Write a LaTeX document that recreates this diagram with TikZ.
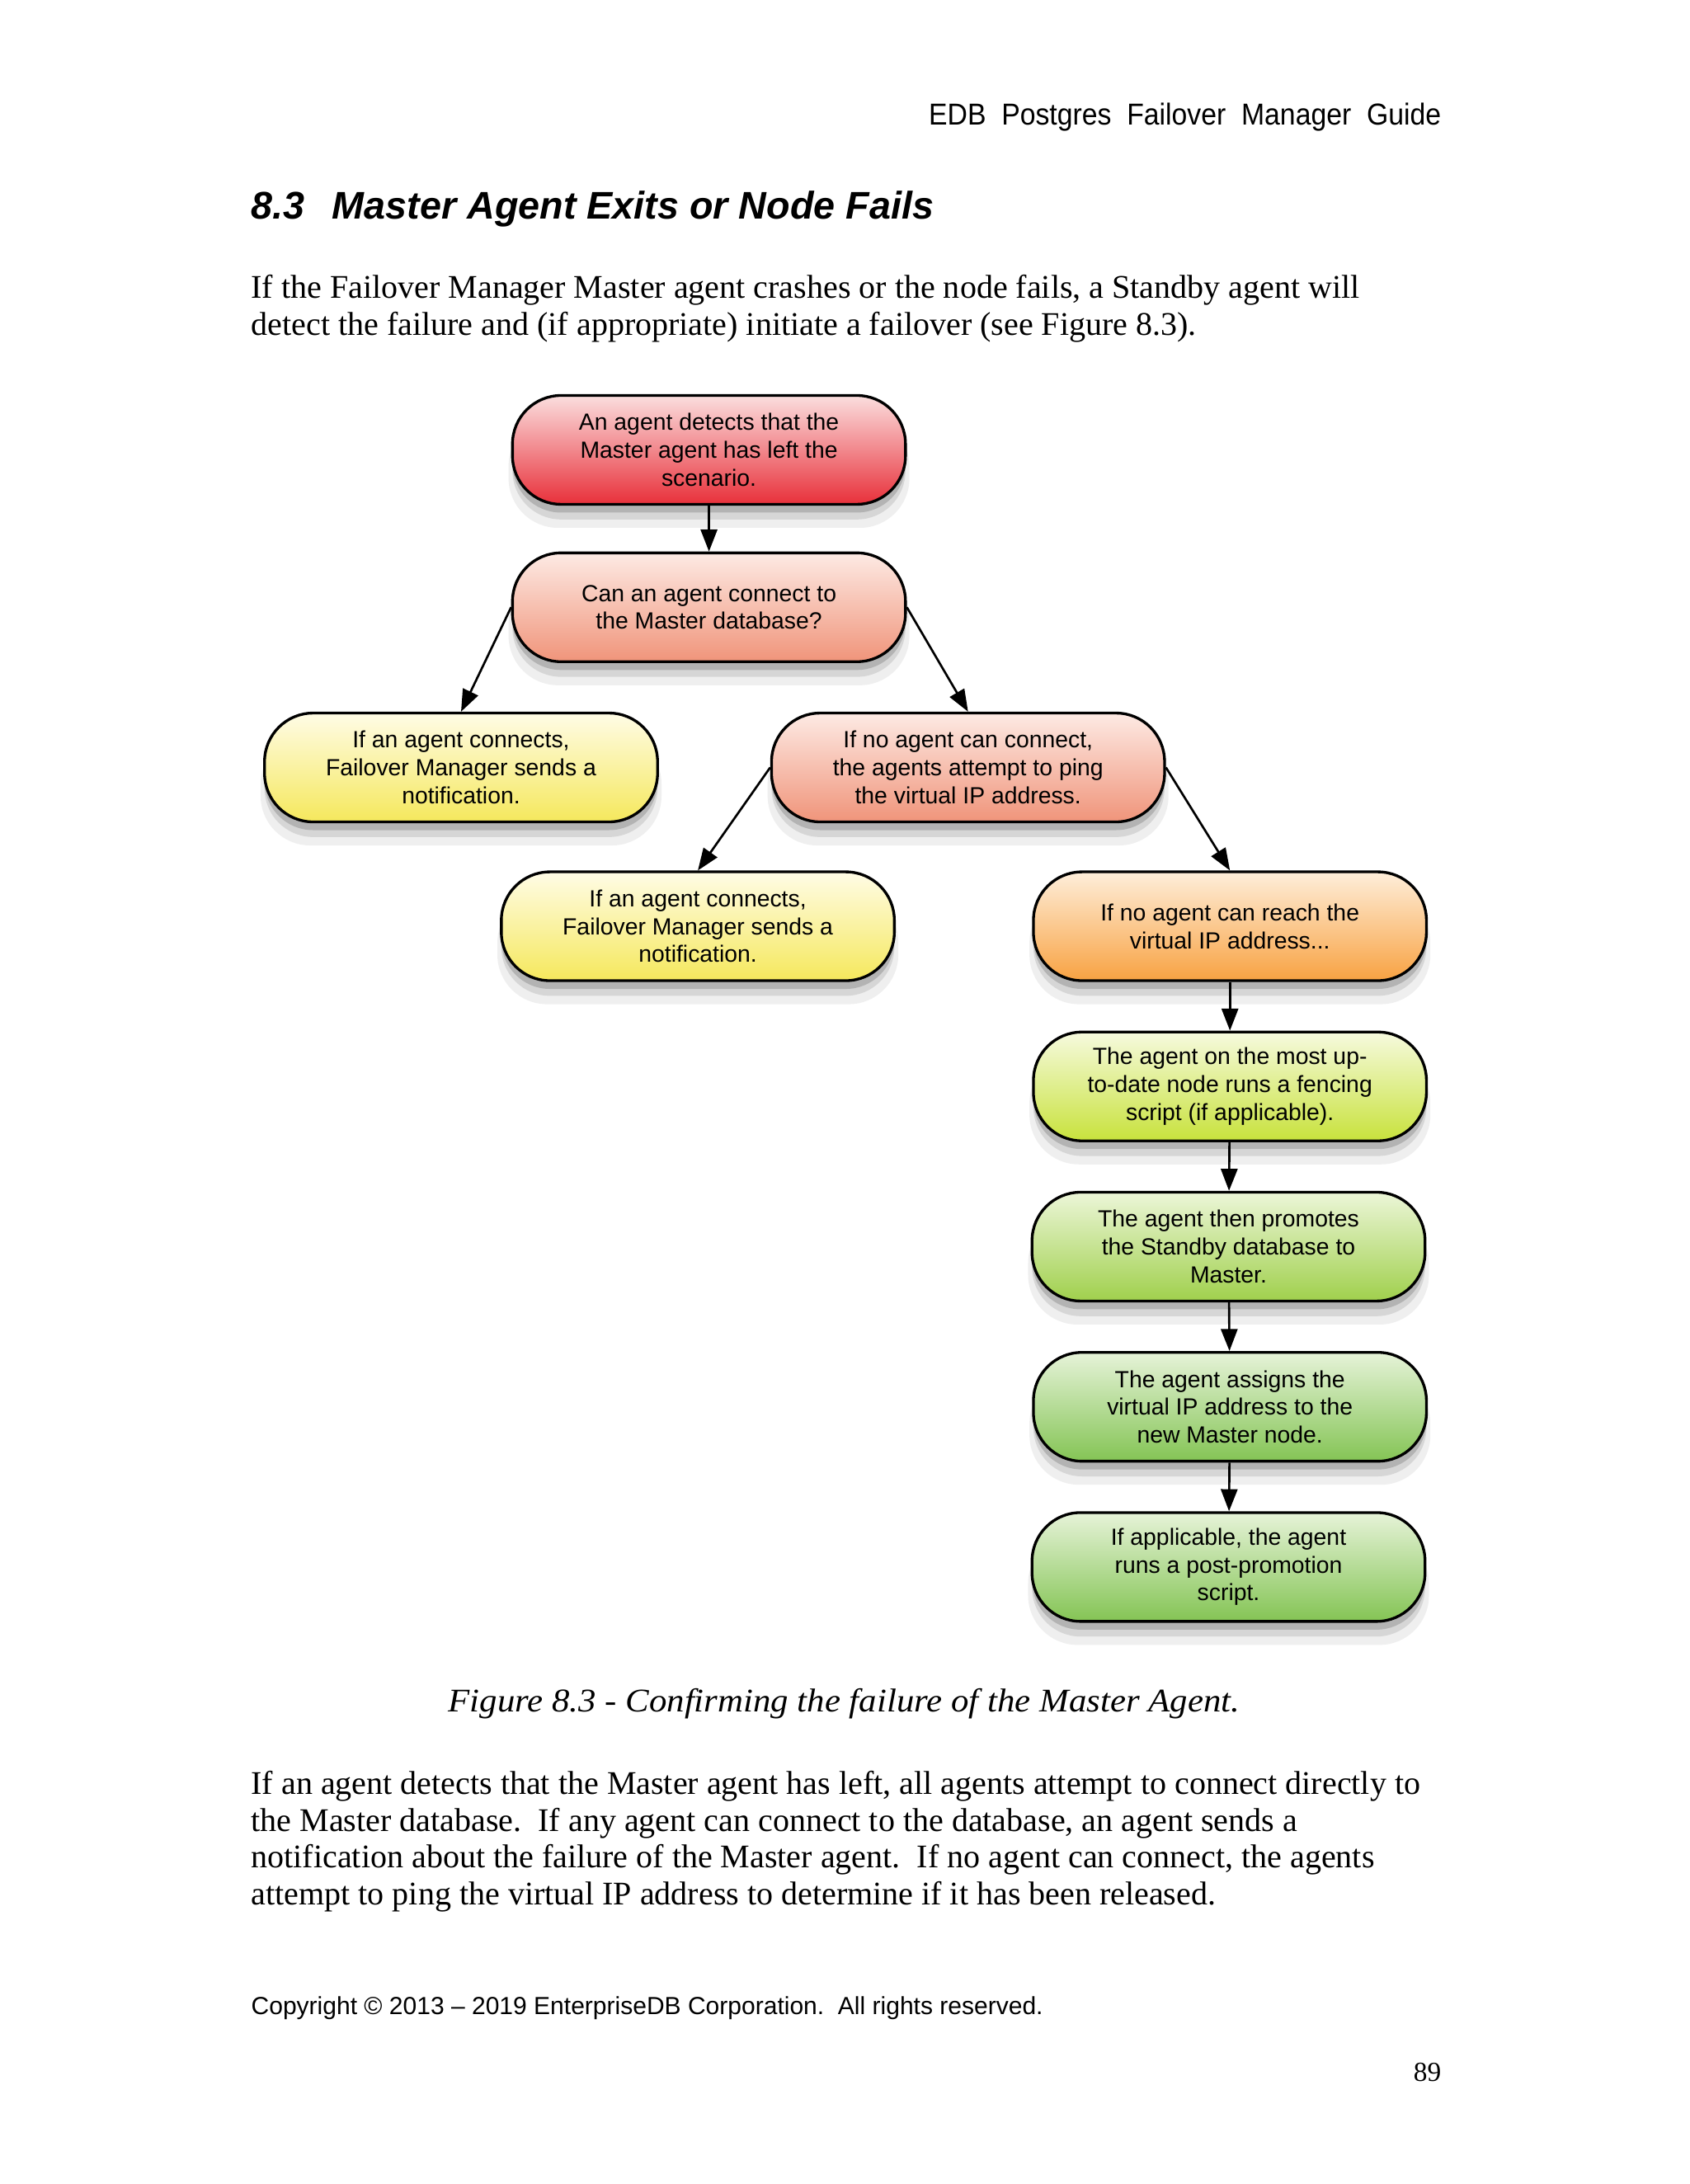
\documentclass[tikz,border=0pt]{standalone}
\usepackage{fontspec}
\setmainfont{Liberation Serif}
\setsansfont{Liberation Sans}
\newfontfamily\captionfont{Liberation Serif}[FakeStretch=1.07]
\newfontfamily\headfont{Liberation Sans}[FakeStretch=0.92]
\usetikzlibrary{arrows.meta}
\usetikzlibrary{shadows}

\definecolor{redtop}{RGB}{251,222,222}
\definecolor{redbot}{RGB}{232,48,58}
\definecolor{salmontop}{RGB}{253,234,228}
\definecolor{salmonbot}{RGB}{240,148,122}
\definecolor{yellowtop}{RGB}{255,252,230}
\definecolor{yellowbot}{RGB}{245,232,92}
\definecolor{orangetop}{RGB}{254,238,218}
\definecolor{orangebot}{RGB}{248,162,66}
\definecolor{limetop}{RGB}{246,250,222}
\definecolor{limebot}{RGB}{200,226,60}
\definecolor{greentop}{RGB}{236,246,216}
\definecolor{greenbot}{RGB}{160,208,76}
\definecolor{leaftop}{RGB}{230,243,216}
\definecolor{leafbot}{RGB}{132,196,84}

\begin{document}
\begin{tikzpicture} [x = 0.017799cm, y = -0.017799cm,
    pill/.style = {draw = black, line width = 1pt, rounded corners = 0.62cm,
        minimum width = 5.02cm, minimum height = 1.39cm, align = center,
        font = \sffamily\fontsize{8.5}{10.1}\selectfont,
        drop shadow = {opacity = 0.12, shadow xshift = 0pt, shadow yshift = -8pt, shadow scale = 1.02},
        drop shadow = {opacity = 0.22, shadow xshift = 0pt, shadow yshift = -5.5pt},
        drop shadow = {opacity = 0.4, shadow xshift = 0pt, shadow yshift = -3pt}},
    flow/.style = {-{Triangle[length = 8pt, width = 6pt]}, line width = 0.8pt}]

    \useasboundingbox (0,0) rectangle (1213,1568);
    \fill [white] (0,0) rectangle (1213,1568);

    % page text
    \node [anchor = base east, inner sep = 0, font = \headfont\fontsize{11}{13}\selectfont] (header) at (1035,90) {EDB\ \ Postgres\ \ Failover\ \ Manager\ \ Guide};
    \node [anchor = base west, inner sep = 0, font = \sffamily\bfseries\itshape\fontsize{14}{16}\selectfont] (title) at (180,157) {8.3\hspace{10pt}Master Agent Exits or Node Fails};
    \node [anchor = north west, inner sep = 0, align = left, font = \rmfamily\fontsize{12}{13.6}\selectfont] (intro) at (180,197) {If the Failover Manager Master agent crashes or the node fails, a Standby agent will\\detect the failure and (if appropriate) initiate a failover (see Figure 8.3).};

    % the flow chart
    \node [pill, top color = redtop, bottom color = redbot] (left) at (509,323) {An agent detects that the\\Master agent has left the\\scenario.};
    \node [pill, top color = salmontop, bottom color = salmonbot] (connect) at (509,436) {Can an agent connect to\\the Master database?};
    \node [pill, top color = yellowtop, bottom color = yellowbot] (notify1) at (331,551) {If an agent connects,\\Failover Manager sends a\\notification.};
    \node [pill, top color = salmontop, bottom color = salmonbot] (ping) at (695,551) {If no agent can connect,\\the agents attempt to ping\\the virtual IP address.};
    \node [pill, top color = yellowtop, bottom color = yellowbot] (notify2) at (501,665) {If an agent connects,\\Failover Manager sends a\\notification.};
    \node [pill, top color = orangetop, bottom color = orangebot] (noreach) at (883,665) {If no agent can reach the\\virtual IP address...};
    \node [pill, top color = limetop, bottom color = limebot] (fence) at (883,780) {The agent on the most up-\\to-date node runs a fencing\\script (if applicable).};
    \node [pill, top color = greentop, bottom color = greenbot] (promote) at (882,895) {The agent then promotes\\the Standby database to\\Master.};
    \node [pill, top color = leaftop, bottom color = leafbot] (assign) at (883,1010) {The agent assigns the\\virtual IP address to the\\new Master node.};
    \node [pill, top color = leaftop, bottom color = leafbot] (post) at (882,1125) {If applicable, the agent\\runs a post-promotion\\script.};

    \draw [flow] (left) -- (connect);
    \draw [flow] (connect.west) -- (notify1.north);
    \draw [flow] (connect.east) -- (ping.north);
    \draw [flow] (ping.west) -- (notify2.north);
    \draw [flow] (ping.east) -- (noreach.north);
    \draw [flow] (noreach) -- (fence);
    \draw [flow] (fence) -- (promote);
    \draw [flow] (promote) -- (assign);
    \draw [flow] (assign) -- (post);

    \node [anchor = base, inner sep = 0, font = \captionfont\itshape\fontsize{12}{13.6}\selectfont] (caption) at (606,1229) {Figure 8.3 - Confirming the failure of the Master Agent.};
    \node [anchor = north west, inner sep = 0, align = left, font = \rmfamily\fontsize{12}{13.4}\selectfont] (more) at (180,1271) {If an agent detects that the Master agent has left, all agents attempt to connect directly to\\the Master database.\ \ If any agent can connect to the database, an agent sends a\\notification about the failure of the Master agent.\ \ If no agent can connect, the agents\\attempt to ping the virtual IP address to determine if it has been released.};

    \node [anchor = base west, inner sep = 0, font = \sffamily\fontsize{9}{11}\selectfont] (footer) at (180,1446) {Copyright \textcopyright\ 2013 – 2019 EnterpriseDB Corporation.\ \ All rights reserved.};
    \node [anchor = base east, inner sep = 0, font = \rmfamily\fontsize{10}{12}\selectfont] (page) at (1035,1494) {89};

\end{tikzpicture}
\end{document}
